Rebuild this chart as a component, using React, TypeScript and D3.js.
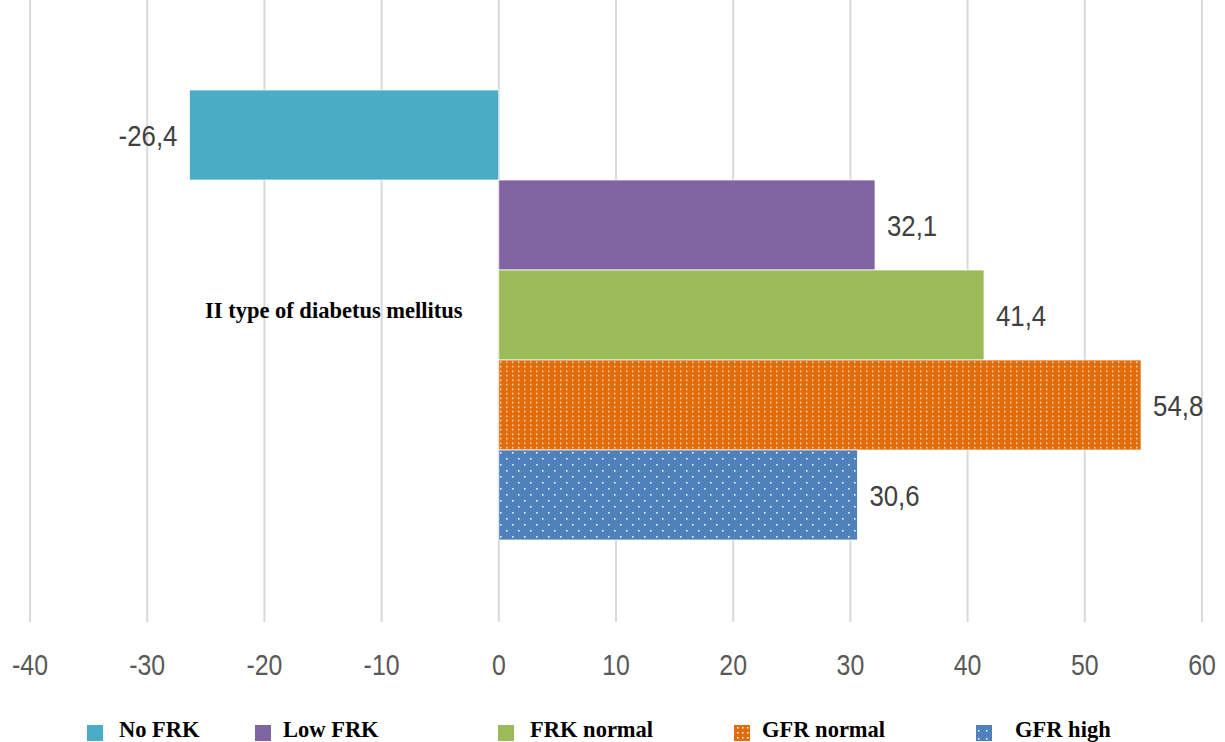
import React from "react";
import * as d3 from "d3";

const categories = ["No FRK", "Low FRK", "FRK normal", "GFR normal", "GFR high"];
const values = [-26.4, 32.1, 41.4, 54.8, 30.6];
const colors = ["#4BACC6", "#8064A2", "#9BBB59", "#E36C0A", "#4F81BD"];
const fills = ["solid", "solid", "solid", "dotsDense", "dotsSparse"];
const ticks = [-40, -30, -20, -10, 0, 10, 20, 30, 40, 50, 60];
const groupLabel = "II type of diabetus mellitus";
const legendBoxX = [87, 255, 498, 734, 976];
const legendTextX = [119, 283, 530, 762, 1015];

const W = 1225;
const H = 742;

export default function App() {
  const x = d3.scaleLinear().domain([-40, 60]).range([30, 1202]);
  const y = d3.scaleBand<string>().domain(categories).range([90, 540]).paddingInner(0);
  const sans = "'Liberation Sans', Arial, sans-serif";
  const serif = "'Liberation Serif', 'Times New Roman', serif";
  const fmt = (v: number) => v.toFixed(1).replace(".", ",");
  const fillFor = (i: number) =>
    fills[i] === "solid" ? colors[i] : `url(#pat-${i})`;

  return (
    <svg
      width={W}
      height={H}
      style={{ position: "absolute", left: 0, top: 0, background: "#fff" }}
    >
      <defs>
        <pattern id="pat-3" width={6} height={4.5} patternUnits="userSpaceOnUse">
          <rect width={6} height={4.5} fill={colors[3]} />
          <rect x={2} y={1.5} width={1.4} height={1.4} fill="#fff" opacity={0.9} />
        </pattern>
        <pattern id="pat-4" width={12} height={12} patternUnits="userSpaceOnUse">
          <rect width={12} height={12} fill={colors[4]} />
          <rect x={2} y={2} width={1.6} height={1.6} fill="#fff" opacity={0.9} />
          <rect x={8} y={8} width={1.6} height={1.6} fill="#fff" opacity={0.9} />
        </pattern>
        <pattern id="lpat-3" width={5} height={5} patternUnits="userSpaceOnUse">
          <rect width={5} height={5} fill={colors[3]} />
          <rect x={2} y={2} width={1.5} height={1.5} fill="#fff" />
        </pattern>
        <pattern id="lpat-4" width={8} height={8} patternUnits="userSpaceOnUse" x={1} y={1}>
          <rect width={8} height={8} fill={colors[4]} />
          <rect x={1} y={1} width={1.5} height={1.5} fill="#fff" />
        </pattern>
      </defs>

      {ticks.map((t) => (
        <g key={t}>
          <line x1={x(t)} x2={x(t)} y1={0} y2={622} stroke="#d9d9d9" strokeWidth={2} />
          <g transform={`translate(${x(t)},675) scale(0.83,1)`}>
            <text x={0} y={0} textAnchor="middle" fontFamily={sans} fontSize={30} fill="#595959">
              {t}
            </text>
          </g>
        </g>
      ))}

      {categories.map((c, i) => {
        const v = values[i];
        const x0 = x(Math.min(0, v));
        const x1 = x(Math.max(0, v));
        const yy = y(c)!;
        const bh = y.bandwidth();
        const lx = v < 0 ? x0 - 12 : x1 + 12;
        return (
          <g key={c}>
            <rect
              x={x0}
              y={yy}
              width={x1 - x0}
              height={bh}
              fill={fillFor(i)}
              stroke="#fff"
              strokeWidth={0.75}
            />
            <g transform={`translate(${lx},${yy + bh / 2 + 11}) scale(0.86,1)`}>
              <text
                x={0}
                y={0}
                textAnchor={v < 0 ? "end" : "start"}
                fontFamily={sans}
                fontSize={30}
                fill="#404040"
              >
                {fmt(v)}
              </text>
            </g>
          </g>
        );
      })}

      <text x={205} y={318} fontFamily={serif} fontWeight="bold" fontSize={22.5} fill="#000">
        {groupLabel}
      </text>

      {categories.map((c, i) => (
        <g key={"lg" + c}>
          <rect
            x={legendBoxX[i]}
            y={725}
            width={16}
            height={16}
            fill={fills[i] === "solid" ? colors[i] : `url(#lpat-${i})`}
          />
          <text
            x={legendTextX[i]}
            y={737}
            fontFamily={serif}
            fontWeight="bold"
            fontSize={22.5}
            fill="#000"
          >
            {c}
          </text>
        </g>
      ))}
    </svg>
  );
}
